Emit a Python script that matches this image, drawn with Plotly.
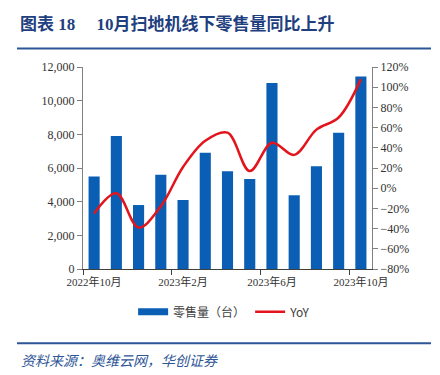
import plotly.graph_objects as go

months = ["2022-10", "2022-11", "2022-12", "2023-01", "2023-02", "2023-03", "2023-04",
          "2023-05", "2023-06", "2023-07", "2023-08", "2023-09", "2023-10"]
sales = [5500, 7900, 3800, 5600, 4100, 6900, 5800, 5350, 11050, 4380, 6110, 8100, 11440]
yoy = [-25, -5, -39, -18, 21, 47, 55, 17, 45, 33, 58, 70, 108]
tick_idx = [0, 4, 8, 12]
tick_text = ["2022年10月", "2023年2月", "2023年6月", "2023年10月"]

x = list(range(len(months)))
BLUE = "#0A5FB4"
RED = "#E3141C"
NAVY = "#1F3F7F"
SERIF = "Liberation Serif, Times New Roman, Noto Sans CJK SC, serif"

fig = go.Figure()
fig.add_trace(go.Bar(x=x, y=sales, marker=dict(color=BLUE, line=dict(width=0)),
                     width=0.5, name="零售量（台）", showlegend=False, yaxis="y"))
fig.add_trace(go.Scatter(x=[None], y=[None], mode="lines", name="零售量（台）",
                         line=dict(color=BLUE, width=7), yaxis="y"))
fig.add_trace(go.Scatter(x=x, y=yoy, mode="lines", name="YoY",
                         line=dict(color=RED, width=2.5, shape="spline", smoothing=1.0),
                         yaxis="y2"))
# helper trace to draw category boundary ticks
fig.add_trace(go.Scatter(x=[None], y=[None], xaxis="x2", yaxis="y", showlegend=False))

fig.update_layout(
    width=440, height=375,
    margin=dict(l=83, r=68, t=67, b=106, autoexpand=False),
    paper_bgcolor="white", plot_bgcolor="white",
    bargap=0.5,
    xaxis=dict(range=[-0.5, 12.5], tickvals=tick_idx, ticktext=tick_text,
               ticks="outside", ticklen=3, tickcolor="rgba(0,0,0,0)",
               showline=True, linecolor="#404040", linewidth=1, showgrid=False, zeroline=False,
               tickfont=dict(family=SERIF, size=11, color="#333333")),
    xaxis2=dict(range=[-0.5, 12.5], overlaying="x", anchor="y", side="bottom",
                tickvals=[-0.5, 3.5, 7.5, 11.5], ticks="outside", ticklen=5, tickcolor="#404040",
                showticklabels=False, showgrid=False, zeroline=False, showline=False),
    yaxis=dict(range=[0, 12000], dtick=2000, tickformat=",", ticks="outside", ticklen=5,
               tickcolor="#808080", showline=True, linecolor="#808080", linewidth=1,
               showgrid=False, zeroline=False,
               tickfont=dict(family=SERIF, size=12, color="#333333")),
    yaxis2=dict(range=[-80, 120], dtick=20, ticksuffix="%", overlaying="y", side="right",
                ticks="outside", ticklen=5, tickcolor="#808080", showline=True,
                linecolor="#808080", linewidth=1, showgrid=False, zeroline=False,
                tickfont=dict(family=SERIF, size=12, color="#333333")),
    legend=dict(orientation="h", x=0.49, xanchor="center", y=-0.212, yanchor="middle",
                font=dict(family="Noto Sans CJK SC, sans-serif", size=12, color="#404040"),
                itemwidth=30, tracegroupgap=0, bgcolor="rgba(0,0,0,0)"),
    showlegend=True,
)

fig.add_annotation(xref="paper", yref="paper", x=(18 - 83) / 289, y=(269 - 25) / 201.5,
                   xanchor="left", yanchor="middle", showarrow=False,
                   text="<b>图表 18     10月扫地机线下零售量同比上升</b>",
                   font=dict(family=SERIF, size=17, color=NAVY))
fig.add_shape(type="line", xref="paper", yref="paper",
              x0=(17 - 83) / 289, x1=(431 - 83) / 289,
              y0=(269 - 49) / 201.5, y1=(269 - 49) / 201.5,
              line=dict(color="#2E5597", width=2))
fig.add_shape(type="line", xref="paper", yref="paper",
              x0=(17 - 83) / 289, x1=(431 - 83) / 289,
              y0=(269 - 343) / 201.5, y1=(269 - 343) / 201.5,
              line=dict(color="#2E5597", width=2))
fig.add_annotation(xref="paper", yref="paper", x=(19 - 83) / 289, y=(269 - 360) / 201.5,
                   xanchor="left", yanchor="middle", showarrow=False,
                   text="<i>资料来源：奥维云网，华创证券</i>",
                   font=dict(family="Noto Sans CJK SC, sans-serif", size=14, color="#2E5597"))

fig.write_html("out.html", config={"displayModeBar": False},
               post_script="document.body.style.margin='0';document.body.style.padding='0';")
